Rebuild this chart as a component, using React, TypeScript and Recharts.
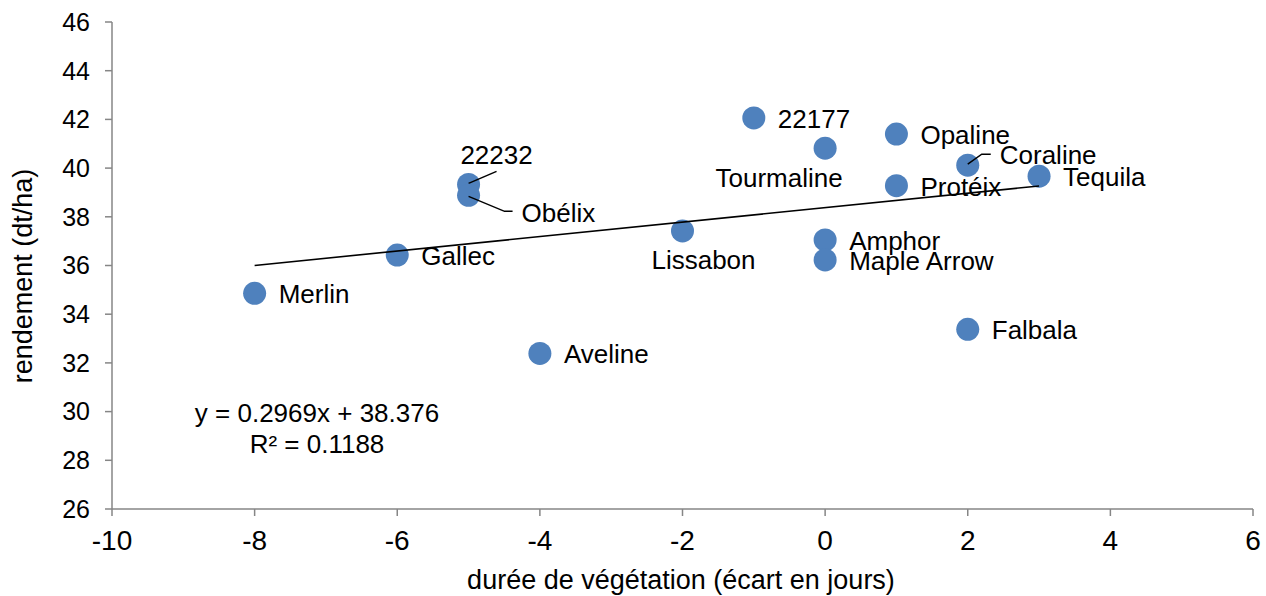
import { ScatterChart, Scatter, XAxis, YAxis, Customized } from "recharts";

const varieties = [
  "Merlin", "Gallec", "22232", "Obélix", "Aveline", "Lissabon", "22177", "Tourmaline",
  "Amphor", "Maple Arrow", "Opaline", "Protéix", "Coraline", "Falbala", "Tequila",
];
const duree = [-8, -6, -5, -5, -4, -2, -1, 0, 0, 0, 1, 1, 2, 2, 3];
const rendement = [
  34.86, 36.43, 39.33, 38.88, 32.39, 37.42, 42.06, 40.82, 37.05, 36.23, 41.4, 39.28, 40.12, 33.38,
  39.67,
];

const xTicks = [-10, -8, -6, -4, -2, 0, 2, 4, 6];
const yTicks = [26, 28, 30, 32, 34, 36, 38, 40, 42, 44, 46];

// courbe de tendance affichée : y = 0.2969x + 38.376
const slope = 0.2969;
const intercept = 38.376;
const trendX = [-8, 3];

const points = varieties.map((name, i) => ({ name, x: duree[i], y: rendement[i] }));
const trend = trendX.map((x) => ({ x, y: slope * x + intercept }));

const FONT = "'Liberation Sans', Arial, sans-serif";
const FS = 26;
const AXIS = "#868686";

// label placement (pixels relative to the marker centre)
type LabelPos = { dx: number; dy: number; anchor?: "start" | "middle" | "end"; leader?: number[][] };
const labelPos: Record<string, LabelPos> = {
  "22232": { dx: 28, dy: -30, anchor: "middle", leader: [[0, -1], [28, -13]] },
  "Obélix": { dx: 53, dy: 17, leader: [[0, 1], [36, 16], [44, 16]] },
  Lissabon: { dx: 21, dy: 28, anchor: "middle" },
  Tourmaline: { dx: -46, dy: 29, anchor: "middle" },
  Coraline: { dx: 32, dy: -11, leader: [[0, -1], [14, -11], [23, -11]] },
};

const Dot = (props: any) => {
  const { cx, cy, payload } = props;
  const pos = labelPos[payload.name] || { dx: 24, dy: 0 };
  return (
    <g>
      <circle cx={cx} cy={cy} r={11.5} fill="#4F81BD" />
      {pos.leader && (
        <polyline
          points={pos.leader.map(([a, b]) => `${cx + a},${cy + b}`).join(" ")}
          fill="none"
          stroke="#000"
          strokeWidth={1.5}
        />
      )}
      <text
        x={cx + pos.dx}
        y={cy + pos.dy + 1}
        textAnchor={pos.anchor || "start"}
        dominantBaseline="central"
        fontFamily={FONT}
        fontSize={FS}
        fill="#000"
      >
        {payload.name}
      </text>
    </g>
  );
};

const Annotations = () => (
  <g fontFamily={FONT} fill="#000">
    <text x={317} y={422} textAnchor="middle" fontSize={FS}>y = 0.2969x + 38.376</text>
    <text x={317} y={453} textAnchor="middle" fontSize={FS}>R² = 0.1188</text>
    <text x={681} y={589} textAnchor="middle" fontSize={27}>
      durée de végétation (écart en jours)
    </text>
    <text x={32} y={276} textAnchor="middle" fontSize={27} transform="rotate(-90, 32, 276)">
      rendement (dt/ha)
    </text>
  </g>
);

export default function App() {
  return (
    <div style={{ position: "absolute", left: 0, top: 0, background: "#fff" }}>
      <ScatterChart width={1266} height={596} margin={{ top: 22, right: 13, bottom: 0, left: 0 }}>
        <XAxis
          type="number"
          dataKey="x"
          domain={[-10, 6]}
          ticks={xTicks}
          height={87}
          stroke={AXIS}
          strokeWidth={1.5}
          tickSize={7}
          tickMargin={14}
          tick={{ fill: "#000", fontSize: 28, fontFamily: FONT }}
          allowDataOverflow
        />
        <YAxis
          type="number"
          dataKey="y"
          domain={[26, 46]}
          ticks={yTicks}
          width={112}
          stroke={AXIS}
          strokeWidth={1.5}
          tickSize={7}
          tickMargin={15}
          tick={{ fill: "#000", fontSize: 25, fontFamily: FONT }}
          allowDataOverflow
        />
        <Scatter data={points} shape={Dot} isAnimationActive={false} />
        <Scatter
          data={trend}
          line={{ stroke: "#000", strokeWidth: 1.6 }}
          shape={() => <g />}
          isAnimationActive={false}
        />
        <Customized component={Annotations} />
      </ScatterChart>
    </div>
  );
}
